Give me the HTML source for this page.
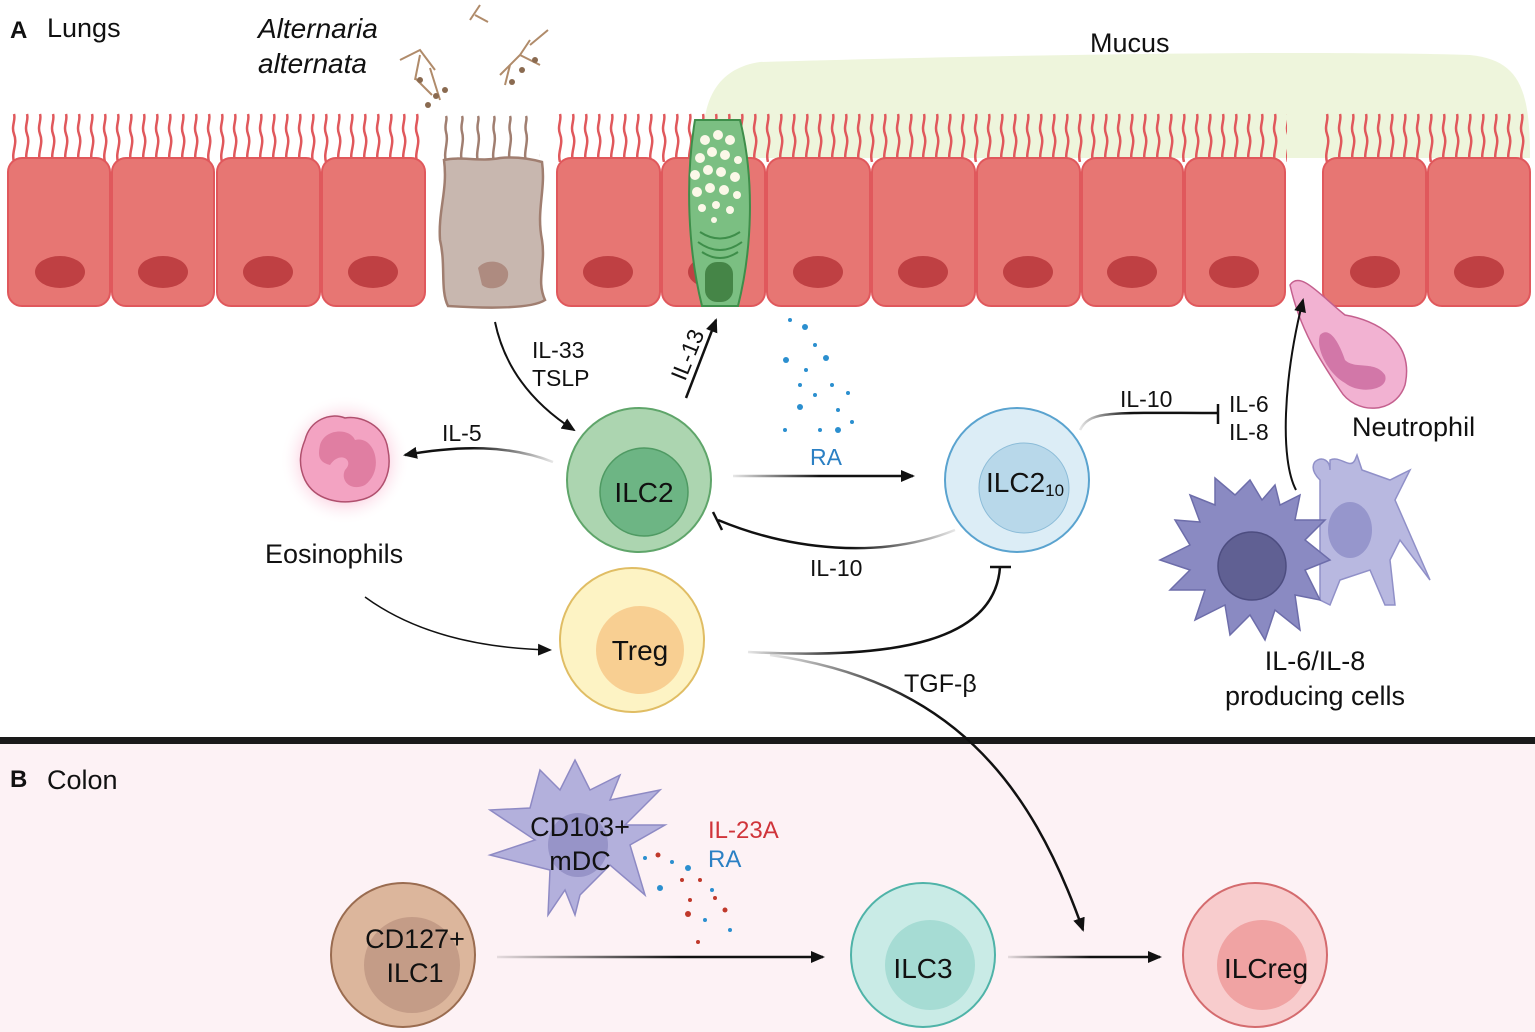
<!DOCTYPE html>
<html><head><meta charset="utf-8"><style>
html,body{margin:0;padding:0;background:#fff}
svg{display:block}
text{font-family:"Liberation Sans",sans-serif;fill:#111}
</style></head><body>
<svg width="1535" height="1032" viewBox="0 0 1535 1032" xmlns="http://www.w3.org/2000/svg">
<defs>
<pattern id="cil" width="13" height="50" patternUnits="userSpaceOnUse" x="8" y="112">
<path d="M6 50 C3 40 10 32 6 22 C3 14 8 8 6 2" stroke="#e0585c" stroke-width="2.5" fill="none"/>
</pattern>
<pattern id="cilb" width="16" height="50" patternUnits="userSpaceOnUse" x="440" y="112">
<path d="M6 50 C3 40 9 30 6 20 C4 12 8 8 6 4" stroke="#a07e70" stroke-width="2.5" fill="none"/>
</pattern>
<marker id="ah" markerWidth="14" markerHeight="12" refX="12" refY="6" orient="auto" markerUnits="userSpaceOnUse">
<path d="M0 0 L14 6 L0 12 Z" fill="#111"/></marker>
<linearGradient id="g1" gradientUnits="userSpaceOnUse" x1="553" y1="0" x2="470" y2="0"><stop offset="0" stop-color="#111" stop-opacity="0.1"/><stop offset="1" stop-color="#111"/></linearGradient>
<linearGradient id="g2" gradientUnits="userSpaceOnUse" x1="733" y1="0" x2="820" y2="0"><stop offset="0" stop-color="#111" stop-opacity="0.1"/><stop offset="1" stop-color="#111"/></linearGradient>
<linearGradient id="g3" gradientUnits="userSpaceOnUse" x1="955" y1="0" x2="850" y2="0"><stop offset="0" stop-color="#111" stop-opacity="0.1"/><stop offset="1" stop-color="#111"/></linearGradient>
<linearGradient id="g4" gradientUnits="userSpaceOnUse" x1="1080" y1="0" x2="1130" y2="0"><stop offset="0" stop-color="#111" stop-opacity="0.1"/><stop offset="1" stop-color="#111"/></linearGradient>
<linearGradient id="g5" gradientUnits="userSpaceOnUse" x1="748" y1="0" x2="850" y2="0"><stop offset="0" stop-color="#111" stop-opacity="0.1"/><stop offset="1" stop-color="#111"/></linearGradient>
<linearGradient id="g6" gradientUnits="userSpaceOnUse" x1="770" y1="655" x2="920" y2="700"><stop offset="0" stop-color="#111" stop-opacity="0.1"/><stop offset="1" stop-color="#111"/></linearGradient>
<linearGradient id="g7" gradientUnits="userSpaceOnUse" x1="497" y1="0" x2="680" y2="0"><stop offset="0" stop-color="#111" stop-opacity="0.1"/><stop offset="1" stop-color="#111"/></linearGradient>
<linearGradient id="g8" gradientUnits="userSpaceOnUse" x1="1008" y1="0" x2="1090" y2="0"><stop offset="0" stop-color="#111" stop-opacity="0.1"/><stop offset="1" stop-color="#111"/></linearGradient>
<radialGradient id="eg"><stop offset="0.5" stop-color="#f7a6c4"/><stop offset="1" stop-color="#fff" stop-opacity="0"/></radialGradient>
</defs>

<rect x="0" y="743" width="1535" height="289" fill="#fdf2f5"/>
<rect x="0" y="737" width="1535" height="7" fill="#1a1a1a"/>

<path d="M705 158 C700 120 705 70 760 62 C1000 55 1300 50 1470 55 C1520 60 1530 90 1530 158 Z" fill="#eef5dc"/>

<rect x="8" y="112" width="418" height="50" fill="url(#cil)"/>
<rect x="557" y="112" width="730" height="50" fill="url(#cil)"/>
<rect x="1323" y="112" width="208" height="50" fill="url(#cil)"/>
<rect x="440" y="115" width="100" height="48" fill="url(#cilb)"/>

<g fill="#e77673" stroke="#e0585c" stroke-width="2">
<rect x="8" y="158" width="102" height="148" rx="14"/>
<rect x="112" y="158" width="102" height="148" rx="14"/>
<rect x="217" y="158" width="103" height="148" rx="14"/>
<rect x="322" y="158" width="103" height="148" rx="14"/>
<rect x="557" y="158" width="103" height="148" rx="14"/>
<rect x="662" y="158" width="103" height="148" rx="14"/>
<rect x="767" y="158" width="103" height="148" rx="14"/>
<rect x="872" y="158" width="103" height="148" rx="14"/>
<rect x="977" y="158" width="103" height="148" rx="14"/>
<rect x="1082" y="158" width="101" height="148" rx="14"/>
<rect x="1185" y="158" width="100" height="148" rx="14"/>
<rect x="1323" y="158" width="103" height="148" rx="14"/>
<rect x="1428" y="158" width="102" height="148" rx="14"/>
</g>
<g fill="#bf4043">
<ellipse cx="60" cy="272" rx="25" ry="16"/><ellipse cx="163" cy="272" rx="25" ry="16"/>
<ellipse cx="268" cy="272" rx="25" ry="16"/><ellipse cx="373" cy="272" rx="25" ry="16"/>
<ellipse cx="608" cy="272" rx="25" ry="16"/><ellipse cx="713" cy="272" rx="25" ry="16"/>
<ellipse cx="818" cy="272" rx="25" ry="16"/><ellipse cx="923" cy="272" rx="25" ry="16"/>
<ellipse cx="1028" cy="272" rx="25" ry="16"/><ellipse cx="1132" cy="272" rx="25" ry="16"/>
<ellipse cx="1234" cy="272" rx="25" ry="16"/><ellipse cx="1375" cy="272" rx="25" ry="16"/>
<ellipse cx="1479" cy="272" rx="25" ry="16"/>
</g>
<path d="M444 160 C460 156 480 162 500 158 C520 156 535 160 542 162 C546 190 536 210 542 240 C546 265 536 280 545 300 C530 310 480 308 448 306 C440 290 446 265 440 240 C438 210 448 190 444 160 Z" fill="#c8b7af" stroke="#a07e70" stroke-width="2.5"/>
<path d="M478 268 C485 258 505 260 508 272 C510 288 490 292 482 285 Z" fill="#ae8b80"/>

<path d="M695 120 L740 120 C755 180 752 250 738 306 L702 306 C688 250 685 180 695 120 Z" fill="#7bbf82" stroke="#3e8e4a" stroke-width="2"/>
<g fill="#fbf8e8">
<circle cx="705" cy="140" r="5"/><circle cx="718" cy="135" r="5"/><circle cx="730" cy="140" r="5"/>
<circle cx="700" cy="158" r="5"/><circle cx="712" cy="152" r="5"/><circle cx="725" cy="155" r="5"/><circle cx="738" cy="160" r="4"/>
<circle cx="695" cy="175" r="5"/><circle cx="708" cy="170" r="5"/><circle cx="721" cy="172" r="5"/><circle cx="735" cy="177" r="5"/>
<circle cx="697" cy="192" r="5"/><circle cx="710" cy="188" r="5"/><circle cx="724" cy="190" r="5"/><circle cx="737" cy="195" r="4"/>
<circle cx="702" cy="208" r="4"/><circle cx="716" cy="205" r="4"/><circle cx="730" cy="210" r="4"/><circle cx="714" cy="220" r="3"/>
</g>
<path d="M700 232 Q720 245 740 232 M698 242 Q720 258 742 242 M702 252 Q720 264 738 252" stroke="#3e8e4a" stroke-width="2" fill="none"/>
<rect x="705" y="262" width="28" height="40" rx="12" fill="#458547"/>

<g stroke="#b08b6a" stroke-width="2" fill="none">
<path d="M400 60 L420 50 L435 70 M420 55 L415 80 M430 68 L440 100 M415 78 L432 95"/>
<path d="M500 75 L520 55 L530 40 M520 55 L540 65 M510 65 L505 85 M530 45 L548 30"/>
<path d="M470 20 L480 5 M475 15 L488 22"/>
</g>
<g fill="#8a6a50"><circle cx="420" cy="80" r="3"/><circle cx="436" cy="96" r="3"/><circle cx="445" cy="90" r="3"/><circle cx="428" cy="105" r="3"/><circle cx="512" cy="82" r="3"/><circle cx="522" cy="70" r="3"/><circle cx="535" cy="60" r="3"/></g>

<text x="10" y="38" font-size="24" font-weight="bold">A</text>
<text x="47" y="37" font-size="27">Lungs</text>
<text x="258" y="38" font-size="28" font-style="italic">Alternaria</text>
<text x="258" y="73" font-size="28" font-style="italic">alternata</text>
<text x="1090" y="52" font-size="27">Mucus</text>

<path d="M1290 285 C1300 270 1320 295 1345 315 C1375 320 1415 340 1405 385 C1395 415 1355 415 1340 390 C1320 360 1300 330 1290 285 Z" fill="#f2b2d2" stroke="#c4608e" stroke-width="1.5"/>
<path d="M1320 335 C1330 325 1340 345 1345 360 C1355 370 1375 360 1385 375 C1390 390 1360 395 1345 383 C1330 375 1315 350 1320 335 Z" fill="#d277a8"/>
<text x="1352" y="436" font-size="27">Neutrophil</text>

<circle cx="345" cy="460" r="65" fill="url(#eg)" opacity="0.8"/>
<path d="M305 440 C310 420 330 412 345 418 C360 415 385 425 388 450 C392 470 385 495 360 500 C340 505 315 500 305 480 C298 465 300 452 305 440 Z" fill="#f3a3c2" stroke="#b0506e" stroke-width="1.5"/>
<path d="M320 445 C325 428 350 428 355 440 C375 435 385 470 365 485 C350 492 340 480 345 470 C355 460 340 450 330 465 C318 462 318 455 320 445 Z" fill="#e07ea2"/>
<text x="265" y="563" font-size="27">Eosinophils</text>

<g fill="#2b8fcf">
<circle cx="805" cy="327" r="3"/><circle cx="790" cy="320" r="2"/><circle cx="815" cy="345" r="2"/><circle cx="786" cy="360" r="3"/><circle cx="826" cy="358" r="3"/><circle cx="806" cy="370" r="2"/><circle cx="832" cy="385" r="2"/><circle cx="800" cy="385" r="2"/><circle cx="815" cy="395" r="2"/><circle cx="800" cy="407" r="3"/><circle cx="848" cy="393" r="2"/><circle cx="838" cy="410" r="2"/><circle cx="785" cy="430" r="2"/><circle cx="838" cy="430" r="3"/><circle cx="820" cy="430" r="2"/><circle cx="852" cy="422" r="2"/>
</g>

<circle cx="639" cy="480" r="72" fill="#acd5b0" stroke="#5fa56a" stroke-width="2"/>
<circle cx="644" cy="492" r="44" fill="#6db584" stroke="#4f9a63" stroke-width="1.5"/>
<text x="644" y="502" font-size="28" text-anchor="middle">ILC2</text>

<circle cx="632" cy="640" r="72" fill="#fdf3c4" stroke="#e0bd64" stroke-width="2"/>
<circle cx="640" cy="650" r="44" fill="#f8cf92"/>
<text x="640" y="660" font-size="28" text-anchor="middle">Treg</text>

<circle cx="1017" cy="480" r="72" fill="#dcedf6" stroke="#5aa3cf" stroke-width="2"/>
<circle cx="1024" cy="488" r="45" fill="#b8d8ea" stroke="#8cbcd8" stroke-width="1"/>
<text x="986" y="492" font-size="28">ILC2<tspan font-size="17" dy="4">10</tspan></text>

<circle cx="403" cy="955" r="72" fill="#dcb69c" stroke="#9a6c50" stroke-width="2"/>
<circle cx="412" cy="965" r="48" fill="#c49c87"/>
<text x="415" y="948" font-size="27" text-anchor="middle">CD127+</text>
<text x="415" y="982" font-size="27" text-anchor="middle">ILC1</text>

<circle cx="923" cy="955" r="72" fill="#c9ebe6" stroke="#4fb3a8" stroke-width="2"/>
<circle cx="930" cy="965" r="45" fill="#a6dcd4"/>
<text x="923" y="978" font-size="28" text-anchor="middle">ILC3</text>

<circle cx="1255" cy="955" r="72" fill="#f8cccd" stroke="#d46b6e" stroke-width="2"/>
<circle cx="1262" cy="965" r="45" fill="#f0a3a3"/>
<text x="1266" y="978" font-size="28" text-anchor="middle">ILCreg</text>

<g fill="#b8b8e0" stroke="#9090c8" stroke-width="1.5">
<path d="M1320 480 C1300 460 1330 450 1330 470 L1330 460 C1340 455 1350 470 1355 460 L1357 455 L1362 470 L1390 480 L1410 470 L1395 500 L1430 580 L1400 540 L1390 560 L1395 605 L1385 605 L1370 570 L1340 580 L1330 605 L1320 600 L1320 560 Z"/>
</g>
<ellipse cx="1350" cy="530" rx="22" ry="28" fill="#9696cc"/>
<g fill="#8a8ac2" stroke="#6d6daa" stroke-width="1.5">
<polygon points="1250,480 1262,500 1275,485 1280,505 1300,495 1295,520 1325,520 1305,540 1330,560 1305,570 1320,600 1295,595 1300,630 1275,610 1265,640 1250,615 1230,635 1225,605 1195,620 1205,590 1170,590 1190,570 1160,560 1190,545 1175,520 1200,522 1190,495 1215,505 1215,478 1235,495"/>
</g>
<circle cx="1252" cy="566" r="34" fill="#606093" stroke="#4d4d80" stroke-width="1.5"/>
<text x="1315" y="670" font-size="27" text-anchor="middle">IL-6/IL-8</text>
<text x="1315" y="705" font-size="27" text-anchor="middle">producing cells</text>

<path d="M540 770 L560 790 L575 760 L590 790 L620 775 L610 800 L660 790 L625 825 L665 825 L630 845 L645 895 L610 865 L580 895 L575 915 L565 890 L548 915 L550 870 L490 855 L535 840 L490 810 L530 808 Z" fill="#b3b0dc" stroke="#8e8ac4" stroke-width="1.5"/>
<ellipse cx="578" cy="845" rx="30" ry="32" fill="#9794c8"/>
<text x="580" y="836" font-size="27" text-anchor="middle">CD103+</text>
<text x="580" y="870" font-size="27" text-anchor="middle">mDC</text>
<g>
<circle cx="658" cy="855" r="2.5" fill="#c0392b"/><circle cx="645" cy="858" r="2" fill="#2b8fcf"/><circle cx="672" cy="862" r="2" fill="#2b8fcf"/><circle cx="688" cy="868" r="3" fill="#2b8fcf"/><circle cx="660" cy="888" r="3" fill="#2b8fcf"/><circle cx="682" cy="880" r="2" fill="#c0392b"/><circle cx="700" cy="880" r="2" fill="#c0392b"/><circle cx="712" cy="890" r="2" fill="#2b8fcf"/><circle cx="690" cy="900" r="2" fill="#c0392b"/><circle cx="725" cy="910" r="2.5" fill="#c0392b"/><circle cx="705" cy="920" r="2" fill="#2b8fcf"/><circle cx="688" cy="914" r="3" fill="#c0392b"/><circle cx="730" cy="930" r="2" fill="#2b8fcf"/><circle cx="698" cy="942" r="2" fill="#c0392b"/><circle cx="715" cy="898" r="2" fill="#c0392b"/>
</g>
<text x="708" y="838" font-size="24" style="fill:#d0343a">IL-23A</text>
<text x="708" y="867" font-size="24" style="fill:#2b80c4">RA</text>
<text x="10" y="787" font-size="24" font-weight="bold">B</text>
<text x="47" y="789" font-size="27">Colon</text>

<g fill="none" stroke-width="2.5">
<path d="M495 322 C505 370 535 405 574 430" stroke="#111" marker-end="url(#ah)" stroke-width="2"/>
<path d="M686 398 L716 320" stroke="#111" marker-end="url(#ah)"/>
<path d="M553 462 C510 445 460 445 405 455" stroke="url(#g1)" marker-end="url(#ah)"/>
<path d="M733 476 L913 476" stroke="url(#g2)" marker-end="url(#ah)"/>
<path d="M955 530 C880 560 790 550 718 520" stroke="url(#g3)"/>
<path d="M713 512 L722 530" stroke="#111"/>
<path d="M1080 430 C1090 410 1110 413 1218 413" stroke="url(#g4)"/>
<path d="M1218 404 L1218 424" stroke="#111"/>
<path d="M1296 490 C1280 460 1283 380 1303 300" stroke="#111" stroke-width="2" marker-end="url(#ah)"/>
<path d="M365 597 C410 630 470 648 550 650" stroke="#111" stroke-width="1.5" marker-end="url(#ah)"/>
<path d="M748 652 C900 660 995 640 1000 567" stroke="url(#g5)"/>
<path d="M990 567 L1011 567" stroke="#111"/>
<path d="M770 655 C950 680 1030 780 1083 930" stroke="url(#g6)" marker-end="url(#ah)"/>
<path d="M497 957 L823 957" stroke="url(#g7)" marker-end="url(#ah)"/>
<path d="M1008 957 L1160 957" stroke="url(#g8)" marker-end="url(#ah)"/>
</g>

<text x="532" y="358" font-size="23">IL-33</text>
<text x="532" y="386" font-size="23">TSLP</text>
<text x="0" y="0" font-size="23" transform="translate(685,382) rotate(-68)">IL-13</text>
<text x="442" y="441" font-size="23">IL-5</text>
<text x="810" y="465" font-size="23" style="fill:#2b80c4">RA</text>
<text x="810" y="576" font-size="23">IL-10</text>
<text x="1120" y="407" font-size="23">IL-10</text>
<text x="1229" y="412" font-size="23">IL-6</text>
<text x="1229" y="440" font-size="23">IL-8</text>
<text x="904" y="692" font-size="25">TGF-β</text>
</svg>
</body></html>
